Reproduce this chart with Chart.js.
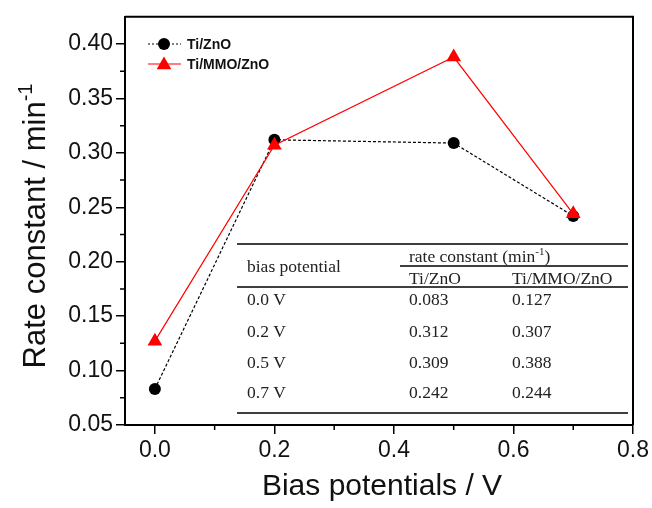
<!DOCTYPE html>
<html>
<head>
<meta charset="utf-8">
<script src="https://cdn.jsdelivr.net/npm/chart.js@4/dist/chart.umd.min.js"></script>
<style>
  html, body { margin: 0; padding: 0; background: #fff; }
  #wrap { width: 652px; height: 508px; }
</style>
</head>
<body>
<div id="wrap"><canvas id="chart" width="652" height="508"></canvas></div>
<script>
// data
const biasV = [0.0, 0.2, 0.5, 0.7];
const tiZnO = [0.083, 0.312, 0.309, 0.242];
const tiMmoZnO = [0.127, 0.307, 0.388, 0.244];
const seriesNames = ['Ti/ZnO', 'Ti/MMO/ZnO'];
const rowLabels = ['0.0 V', '0.2 V', '0.5 V', '0.7 V'];
const xTicks = [0.0, 0.2, 0.4, 0.6, 0.8];
const xMinor = [0.1, 0.3, 0.5, 0.7];
const yTicks = [0.05, 0.10, 0.15, 0.20, 0.25, 0.30, 0.35, 0.40];
const yMinor = [0.075, 0.125, 0.175, 0.225, 0.275, 0.325, 0.375];

const SANS = "'Liberation Sans', Arial, sans-serif";
const SERIF = "'Liberation Serif', 'Times New Roman', serif";

// draw text with a superscript part
function supText(ctx, parts, x, y, align) {
  let total = 0;
  parts.forEach(p => { ctx.font = p.font; p.w = ctx.measureText(p.t).width; total += p.w; });
  let cx = align === 'center' ? x - total / 2 : x;
  ctx.textAlign = 'left';
  ctx.textBaseline = 'alphabetic';
  parts.forEach(p => {
    ctx.font = p.font;
    ctx.fillText(p.t, cx, y - (p.rise || 0));
    cx += p.w;
  });
}

const extras = {
  id: 'extras',
  afterDraw(chart) {
    const ctx = chart.ctx;
    const a = chart.chartArea;
    const xs = chart.scales.x, ys = chart.scales.y;
    ctx.save();

    // frame top/right
    ctx.strokeStyle = '#000';
    ctx.lineWidth = 2;
    ctx.beginPath();
    ctx.moveTo(a.left, a.top); ctx.lineTo(a.right, a.top); ctx.lineTo(a.right, a.bottom);
    ctx.stroke();

    // minor ticks
    ctx.lineWidth = 1.5;
    ctx.beginPath();
    yMinor.forEach(v => { const p = ys.getPixelForValue(v); ctx.moveTo(a.left, p); ctx.lineTo(a.left - 5, p); });
    xMinor.forEach(v => { const p = xs.getPixelForValue(v); ctx.moveTo(p, a.bottom); ctx.lineTo(p, a.bottom + 5); });
    ctx.stroke();

    // axis titles
    ctx.fillStyle = '#111';
    supText(ctx, [{t: 'Bias potentials / V', font: '30px ' + SANS}], (a.left + a.right) / 2 + 3, 495, 'center');
    ctx.save();
    ctx.translate(45, 226);
    ctx.rotate(-Math.PI / 2);
    supText(ctx, [{t: 'Rate constant / min', font: '31px ' + SANS}, {t: '-1', font: '20px ' + SANS, rise: 13}], 0, 0, 'center');
    ctx.restore();

    // legend
    const leg = [
      {y: 44, color: '#000', dash: [2, 2], style: 'circle', r: 6},
      {y: 64, color: '#ff0000', dash: [], style: 'triangle', r: 8.5}
    ];
    leg.forEach((l, i) => {
      ctx.strokeStyle = l.color;
      ctx.lineWidth = 1.2;
      ctx.setLineDash(l.dash);
      ctx.beginPath(); ctx.moveTo(148, l.y); ctx.lineTo(181, l.y); ctx.stroke();
      ctx.setLineDash([]);
      ctx.fillStyle = l.color;
      Chart.helpers.drawPoint(ctx, {pointStyle: l.style, radius: l.r, borderWidth: 0}, 164, l.y + (l.style === 'triangle' ? 1 : 0));
      ctx.fillStyle = '#111';
      ctx.font = 'bold 14px ' + SANS;
      ctx.textAlign = 'left'; ctx.textBaseline = 'middle';
      ctx.fillText(seriesNames[i], 187, l.y + 1);
    });

    // inset table
    ctx.strokeStyle = '#000';
    ctx.lineWidth = 1.3;
    ctx.beginPath();
    ctx.moveTo(237, 244); ctx.lineTo(628, 244);
    ctx.moveTo(400, 266); ctx.lineTo(628, 266);
    ctx.moveTo(237, 287); ctx.lineTo(628, 287);
    ctx.moveTo(237, 413); ctx.lineTo(628, 413);
    ctx.stroke();
    ctx.fillStyle = '#222';
    const f = '17.5px ' + SERIF;
    supText(ctx, [{t: 'bias potential', font: f}], 247, 272);
    supText(ctx, [{t: 'rate constant (min', font: f}, {t: '-1', font: '11px ' + SERIF, rise: 7}, {t: ')', font: f}], 409, 262);
    supText(ctx, [{t: seriesNames[0], font: f}], 409, 284);
    supText(ctx, [{t: seriesNames[1], font: f}], 512, 284);
    const rowY = [305, 337, 368, 398];
    rowLabels.forEach((lab, i) => {
      supText(ctx, [{t: lab, font: f}], 247, rowY[i]);
      supText(ctx, [{t: tiZnO[i].toFixed(3), font: f}], 409, rowY[i]);
      supText(ctx, [{t: tiMmoZnO[i].toFixed(3), font: f}], 512, rowY[i]);
    });
    ctx.restore();
  }
};

new Chart(document.getElementById('chart'), {
  type: 'scatter',
  data: {
    datasets: [
      {
        label: seriesNames[0],
        data: biasV.map((x, i) => ({x: x, y: tiZnO[i]})),
        showLine: true,
        borderColor: '#000',
        borderWidth: 1.2,
        borderDash: [3, 2],
        pointStyle: 'circle',
        pointRadius: 6,
        pointBackgroundColor: '#000',
        pointBorderWidth: 0,
        order: 2
      },
      {
        label: seriesNames[1],
        data: biasV.map((x, i) => ({x: x, y: tiMmoZnO[i]})),
        showLine: true,
        borderColor: '#ff0000',
        borderWidth: 1.2,
        pointStyle: 'triangle',
        pointRadius: 8.5,
        pointBackgroundColor: '#ff0000',
        pointBorderWidth: 0,
        order: 1
      }
    ]
  },
  options: {
    responsive: false,
    animation: false,
    devicePixelRatio: 1,
    layout: { padding: { top: 13, right: 19, left: 0, bottom: 0 } },
    plugins: { legend: { display: false }, tooltip: { enabled: false } },
    scales: {
      x: {
        type: 'linear',
        min: -0.05,
        max: 0.8,
        afterBuildTicks: s => { s.ticks = xTicks.map(v => ({value: v})); },
        afterFit: s => { s.height = 83; },
        ticks: {
          callback: v => v.toFixed(1),
          font: { family: SANS, size: 23 },
          color: '#111',
          padding: 3,
          maxRotation: 0
        },
        grid: { drawOnChartArea: false, color: '#000', lineWidth: 1.5, tickLength: 9 },
        border: { display: true, color: '#000', width: 2 }
      },
      y: {
        type: 'linear',
        min: 0.05,
        max: 0.425,
        afterBuildTicks: s => { s.ticks = yTicks.map(v => ({value: v})); },
        afterFit: s => { s.width = 125; },
        ticks: {
          callback: v => v.toFixed(2),
          font: { family: SANS, size: 23 },
          color: '#111',
          padding: 3
        },
        grid: { drawOnChartArea: false, color: '#000', lineWidth: 1.5, tickLength: 9 },
        border: { display: true, color: '#000', width: 2 }
      }
    }
  },
  plugins: [extras]
});
</script>
</body>
</html>
